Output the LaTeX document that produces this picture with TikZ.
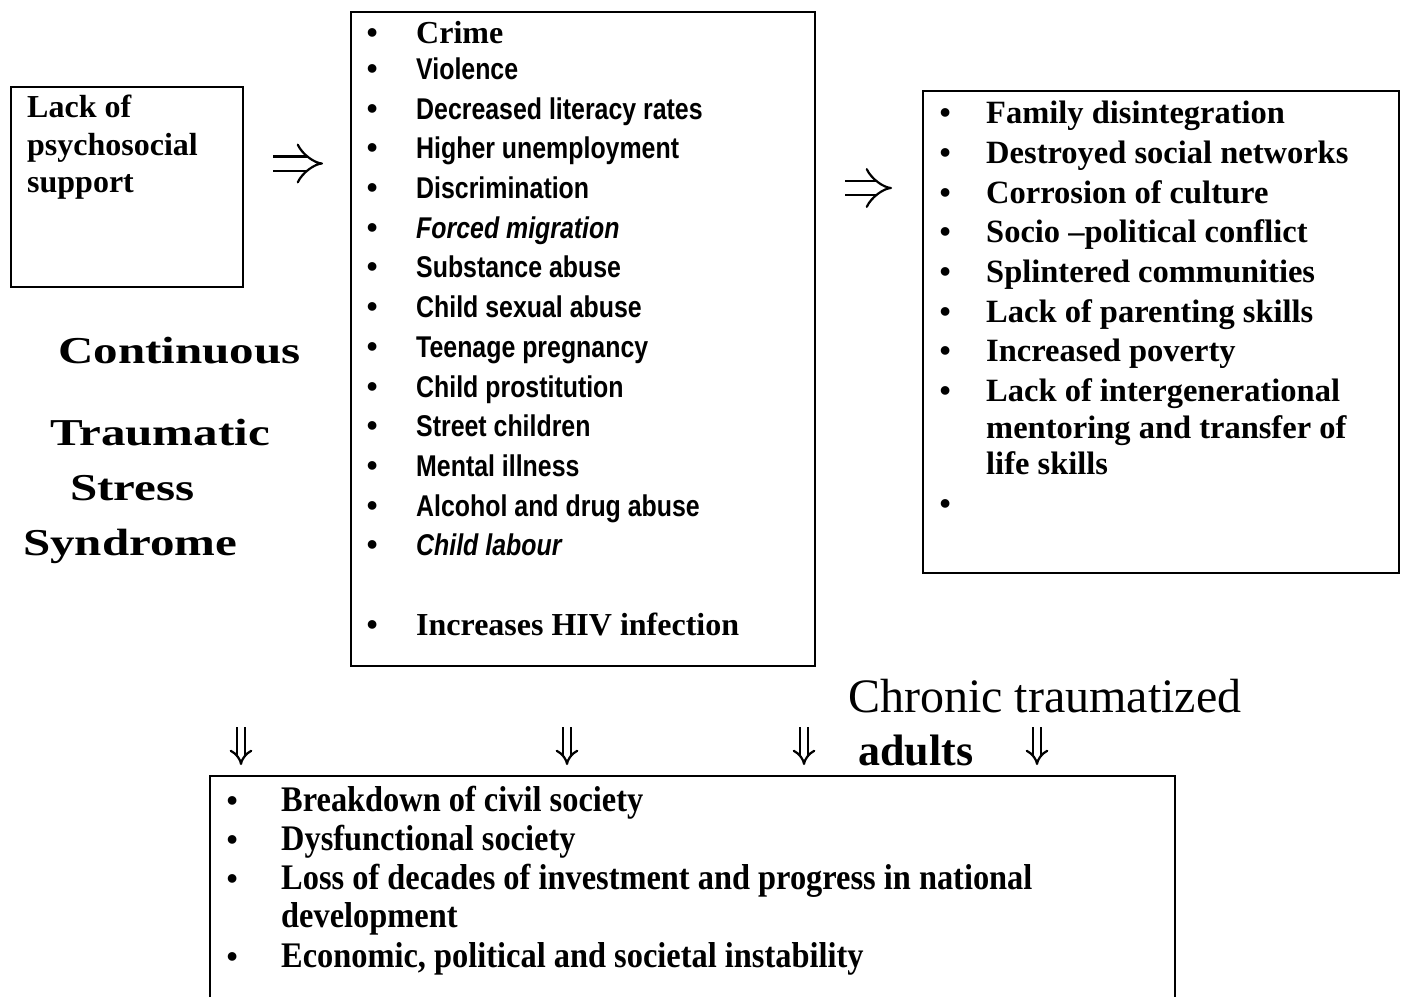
\documentclass[tikz,border=0pt]{standalone}
\usepackage{fontspec}
\setmainfont{Liberation Serif}
\newfontfamily\narrowsans[FakeStretch=0.83]{Liberation Sans}
\newfontfamily\narrowserif[FakeStretch=0.9]{Liberation Serif}
\newfontfamily\wideserif[FakeStretch=1.29]{Liberation Serif}
\usepackage{tikz}
\usetikzlibrary{matrix,arrows.meta}

\tikzset{
	frame/.style={draw, line width=1.5pt, inner sep=0pt, anchor=north west},
	txt/.style={inner sep=0pt, anchor=base west},
	bulletlist/.style={matrix of nodes, inner sep=0pt, column sep=0pt, row sep=0pt, anchor=north west,
		nodes={inner sep=0pt, text height=28pt, text depth=11.7pt, anchor=base west},
		column 1/.style={nodes={anchor=base, minimum width=#1, font=\fontsize{32}{38}\selectfont\bfseries}}},
	serifitem/.style={font=\fontsize{32}{38}\selectfont\bfseries},
	sansitalic/.style={font=\fontsize{30}{34}\narrowsans\bfseries\itshape},
	imply/.style={double, double distance=12pt, line width=2.2pt, -{Implies}},
	downimply/.style={double, double distance=5.5pt, line width=2.2pt, -{Implies}}
}

\begin{document}
\begin{tikzpicture}[x=1pt, y=-1pt]
	\useasboundingbox (0,0) rectangle (1407,997);

	\node (lack) [frame, minimum width=232pt, minimum height=200pt] at (10,86) {};
	\node (lacktext) [inner sep=0pt, anchor=north west, align=left, font=\fontsize{32}{37.5}\selectfont\bfseries] at (27,95) {Lack of\\psychosocial\\support};

	\node (causes) [frame, minimum width=464pt, minimum height=654pt] at (350,11) {};
	\matrix (causelist) [bulletlist=88pt, nodes={font=\fontsize{30}{34}\narrowsans\bfseries}] at (328,15.5) {
		• & |[serifitem]| Crime \\[-4pt]
		• & Violence \\
		• & Decreased literacy rates \\
		• & Higher unemployment \\
		• & Discrimination \\
		• & |[sansitalic]| Forced migration \\
		• & Substance abuse \\
		• & Child sexual abuse \\
		• & Teenage pregnancy \\
		• & Child prostitution \\
		• & Street children \\
		• & Mental illness \\
		• & Alcohol and drug abuse \\
		• & |[sansitalic]| Child labour \\[39.7pt]
		• & |[serifitem]| Increases HIV infection \\
	};

	\node (effects) [frame, minimum width=476pt, minimum height=482pt] at (922,90) {};
	\matrix (effectlist) [bulletlist=82pt, nodes={font=\fontsize{32.5}{38}\selectfont\bfseries}] at (904,95.5) {
		• & Family disintegration \\
		• & Destroyed social networks \\
		• & Corrosion of culture \\
		• & Socio –political conflict \\
		• & Splintered communities \\
		• & Lack of parenting skills \\
		• & Increased poverty \\
		• & Lack of intergenerational \\[-2.6pt]
		& mentoring and transfer of \\[-3.6pt]
		& life skills \\
		• \\
	};

	\node (continuous) [txt, font=\fontsize{38}{44}\wideserif\bfseries] at (58,363) {Continuous};
	\node (traumatic) [txt, font=\fontsize{38}{44}\wideserif\bfseries] at (50,445) {Traumatic};
	\node (stress) [txt, font=\fontsize{38}{44}\wideserif\bfseries] at (70,500) {Stress};
	\node (syndrome) [txt, font=\fontsize{38}{44}\wideserif\bfseries] at (23,555) {Syndrome};

	\node (chronic) [txt, font=\fontsize{48}{56}\selectfont] at (848,712) {Chronic traumatized};
	\node (adults) [txt, font=\fontsize{44}{50}\selectfont\bfseries] at (858,765) {adults};

	\draw[line width=1.5pt] (210,997) |- (1175,776) -- (1175,997);
	\matrix (outcomes) [bulletlist=98pt, nodes={font=\fontsize{36}{40}\narrowserif\bfseries}] at (183,783) {
		• & Breakdown of civil society \\
		• & Dysfunctional society \\[-0.7pt]
		• & Loss of decades of investment and progress in national \\[-1.7pt]
		& development \\
		• & Economic, political and societal instability \\
	};

	\coordinate (r1a) at (273,163.5);
	\coordinate (r1b) at (323,163.5);
	\coordinate (r2a) at (845,188);
	\coordinate (r2b) at (892,188);
	\draw[imply] (r1a) -- (r1b);
	\draw[imply] (r2a) -- (r2b);

	\coordinate (d1a) at (241,727);
	\coordinate (d1b) at (241,765);
	\coordinate (d2a) at (567,727);
	\coordinate (d2b) at (567,765);
	\coordinate (d3a) at (804,727);
	\coordinate (d3b) at (804,765);
	\coordinate (d4a) at (1037,727);
	\coordinate (d4b) at (1037,765);
	\draw[downimply] (d1a) -- (d1b);
	\draw[downimply] (d2a) -- (d2b);
	\draw[downimply] (d3a) -- (d3b);
	\draw[downimply] (d4a) -- (d4b);
\end{tikzpicture}
\end{document}
